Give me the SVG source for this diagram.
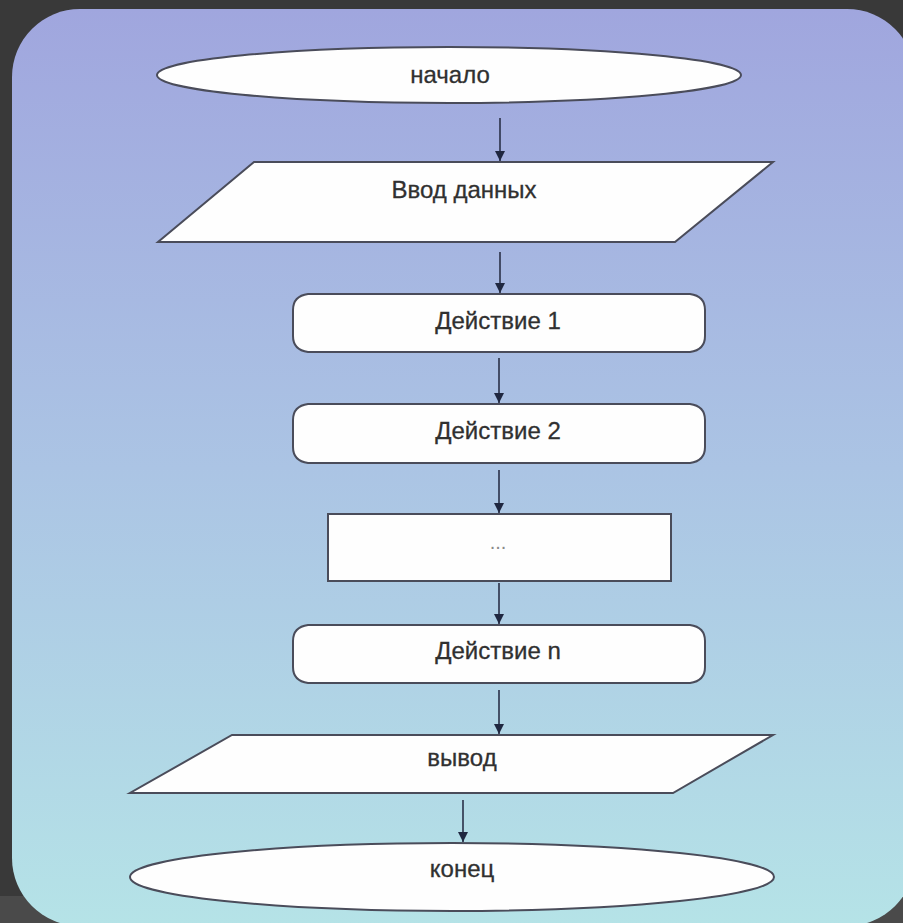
<svg xmlns="http://www.w3.org/2000/svg" width="903" height="923" viewBox="0 0 903 923">
<defs>
<linearGradient id="bg" x1="0" y1="0" x2="0" y2="1">
<stop offset="0" stop-color="#a0a6de"/>
<stop offset="0.5" stop-color="#abc4e4"/>
<stop offset="1" stop-color="#b5e3e7"/>
</linearGradient>
<marker id="arr" viewBox="0 0 10 10" refX="10" refY="5" markerWidth="10" markerHeight="10" markerUnits="userSpaceOnUse" orient="auto">
<path d="M0,0 L10,5 L0,10 Z" fill="#1f2740"/>
</marker>
</defs>
<style>
.shape{fill:#fefefe;stroke:#4a4c5a;stroke-width:2}
.lbl{font-family:"Liberation Sans",Arial,sans-serif;font-size:24px;fill:#303030;text-anchor:middle;stroke:#303030;stroke-width:0.3}
.dots{font-family:"Liberation Sans",Arial,sans-serif;font-size:20px;fill:#8a8a8a;text-anchor:middle}
.conn{stroke:#2a3048;stroke-width:1.6;fill:none;marker-end:url(#arr)}
</style>
<rect x="0" y="0" width="903" height="923" fill="#393939"/>
<rect x="0" y="896" width="903" height="27" fill="#4a4a4a"/>
<rect x="12" y="9" width="903" height="917" rx="68" ry="68" fill="url(#bg)"/>

<g id="start">
<ellipse class="shape" cx="449" cy="75" rx="292" ry="28"/>
<text class="lbl" x="450" y="83">начало</text>
</g>
<g id="input">
<polygon class="shape" points="254,162 773,162 675,242 158,242"/>
<text class="lbl" x="464" y="198">Ввод данных</text>
</g>
<g id="action1">
<path class="shape" d="M308,294 H690 Q705,296 705,310 V336 Q705,350 690,352 H308 Q293,350 293,336 V310 Q293,296 308,294 Z"/>
<text class="lbl" x="498" y="329">Действие 1</text>
</g>
<g id="action2">
<path class="shape" d="M308,404 H690 Q705,406 705,420 V447 Q705,461 690,463 H308 Q293,461 293,447 V420 Q293,406 308,404 Z"/>
<text class="lbl" x="498" y="439">Действие 2</text>
</g>
<g id="ellipsis">
<rect class="shape" x="328" y="514" width="343" height="67"/>
<text class="dots" x="498" y="549">...</text>
</g>
<g id="actionn">
<path class="shape" d="M308,625 H690 Q705,627 705,641 V667 Q705,681 690,683 H308 Q293,681 293,667 V641 Q293,627 308,625 Z"/>
<text class="lbl" x="498" y="659">Действие n</text>
</g>
<g id="output">
<polygon class="shape" points="232,735 773,735 673,793 130,793"/>
<text class="lbl" x="462" y="766">вывод</text>
</g>
<g id="end">
<ellipse class="shape" cx="452" cy="877" rx="322" ry="34"/>
<text class="lbl" x="462" y="877">конец</text>
</g>
<g id="connectors">
<line class="conn" x1="500" y1="118" x2="500" y2="161"/>
<line class="conn" x1="500" y1="252" x2="500" y2="293"/>
<line class="conn" x1="499" y1="358" x2="499" y2="403"/>
<line class="conn" x1="499" y1="470" x2="499" y2="513"/>
<line class="conn" x1="499" y1="583" x2="499" y2="624"/>
<line class="conn" x1="499" y1="690" x2="499" y2="734"/>
<line class="conn" x1="463" y1="800" x2="463" y2="842"/>
</g>
</svg>
